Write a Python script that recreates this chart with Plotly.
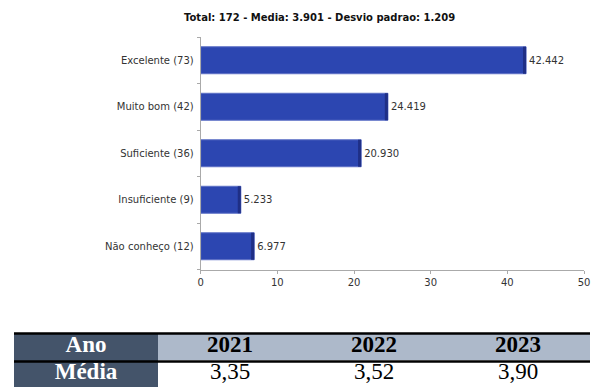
import plotly.graph_objects as go

categories = ["Excelente (73)", "Muito bom (42)", "Suficiente (36)", "Insuficiente (9)", "Não conheço (12)"]
percentages = [42.442, 24.419, 20.930, 5.233, 6.977]
value_labels = ["42.442", "24.419", "20.930", "5.233", "6.977"]
x_ticks = [0, 10, 20, 30, 40, 50]
title_text = "Total: 172 - Media: 3.901 - Desvio padrao: 1.209"

table_header = ["Ano", "2021", "2022", "2023"]
table_row_label = "Média"
table_values = ["3,35", "3,52", "3,90"]

# The page body has an 8px margin; lay out in reference pixels and convert.
OFF = 8
W, H = 600 - OFF, 387 - OFF


def px(xp):
    return (xp - OFF) / W


def py(yp):
    return 1 - (yp - OFF) / H


strip = 0.4  # dark right edge width in data units

fig = go.Figure()
fig.add_trace(go.Bar(
    y=categories, x=percentages, orientation="h",
    marker=dict(color="#2C46B1", line=dict(color="#5D70C6", width=1)),
    text=value_labels, textposition="outside", cliponaxis=False,
    textfont=dict(family="DejaVu Sans", size=10, color="#333333"),
    width=0.58, hoverinfo="skip", showlegend=False,
))
fig.add_trace(go.Bar(
    y=categories, x=[strip] * len(percentages),
    base=[p - strip for p in percentages], orientation="h",
    marker=dict(color="#1F2F86", line=dict(width=0)),
    width=0.58, hoverinfo="skip", showlegend=False,
))

# Table drawn on its own category axes: heatmap for fills, text trace for values.
rows = [table_header[0], table_row_label]
fill_z = [[0 if c == 0 else (1 if r == 0 else 2) for c in range(len(table_header))]
          for r in range(len(rows))]
fig.add_trace(go.Heatmap(
    x=table_header, y=rows, z=fill_z,
    colorscale=[[0, "#44546A"], [0.5, "#ADB9CA"], [1, "#FFFFFF"]],
    zmin=0, zmax=2, showscale=False, hoverinfo="skip",
    xaxis="x2", yaxis="y2",
))
cell_x, cell_y, cell_t, cell_c = [], [], [], []
for c, h in enumerate(table_header):
    cell_x.append(h)
    cell_y.append(rows[0])
    cell_t.append("<b>%s</b>" % h)
    cell_c.append("white" if c == 0 else "black")
cell_x.append(table_header[0])
cell_y.append(rows[1])
cell_t.append("<b>%s</b>" % table_row_label)
cell_c.append("white")
for h, v in zip(table_header[1:], table_values):
    cell_x.append(h)
    cell_y.append(rows[1])
    cell_t.append(v)
    cell_c.append("black")
fig.add_trace(go.Scatter(
    x=cell_x, y=cell_y, text=cell_t, mode="text", textposition="middle center",
    textfont=dict(family="Liberation Serif", size=23, color=cell_c),
    hoverinfo="skip", showlegend=False, xaxis="x2", yaxis="y2", cliponaxis=False,
))

for yl in (333.5, 361.5):
    fig.add_shape(type="line", xref="paper", yref="paper",
                  x0=px(14), x1=px(590), y0=py(yl), y1=py(yl),
                  line=dict(color="black", width=2.5))

fig.update_layout(
    width=W, height=H, autosize=False,
    margin=dict(l=0, r=0, t=0, b=0, pad=0, autoexpand=False),
    paper_bgcolor="white", plot_bgcolor="white",
    barmode="overlay",
    font=dict(family="DejaVu Sans", size=10, color="#333333"),
    annotations=[dict(
        text="<b>%s</b>" % title_text, xref="paper", yref="paper",
        x=px(320), y=py(17.5), xanchor="center", yanchor="middle",
        showarrow=False, font=dict(family="DejaVu Sans", size=10, color="#111111"),
    )],
    xaxis=dict(
        domain=[px(200.7), px(584)], range=[0, 50], tickvals=x_ticks,
        showgrid=False, zeroline=False, showline=True, linecolor="#AAAAAA",
        ticks="outside", ticklen=3, tickcolor="#AAAAAA", automargin=False,
        tickfont=dict(family="DejaVu Sans", size=10, color="#333333"),
        fixedrange=True,
    ),
    yaxis=dict(
        domain=[py(269.5), py(37)],
        categoryorder="array", categoryarray=categories[::-1],
        autorange=False, range=[-0.5, 4.5], automargin=False,
        showgrid=False, zeroline=False, showline=True, linecolor="#AAAAAA",
        ticks="outside", ticklen=3, tickcolor="#AAAAAA", tickson="boundaries",
        tickfont=dict(family="DejaVu Sans", size=10, color="#333333"),
        ticklabelstandoff=4,
        fixedrange=True,
    ),
    xaxis2=dict(
        domain=[px(14), px(590)], anchor="y2", type="category",
        categoryorder="array", categoryarray=table_header, range=[-0.5, 3.5],
        showgrid=False, zeroline=False, showline=False, showticklabels=False,
        ticks="", fixedrange=True, automargin=False,
    ),
    yaxis2=dict(
        domain=[0, py(333)], anchor="x2", type="category",
        categoryorder="array", categoryarray=rows[::-1], range=[-0.5, 1.5],
        showgrid=False, zeroline=False, showline=False, showticklabels=False,
        ticks="", fixedrange=True, automargin=False,
    ),
)

fig.write_html("out.html")
